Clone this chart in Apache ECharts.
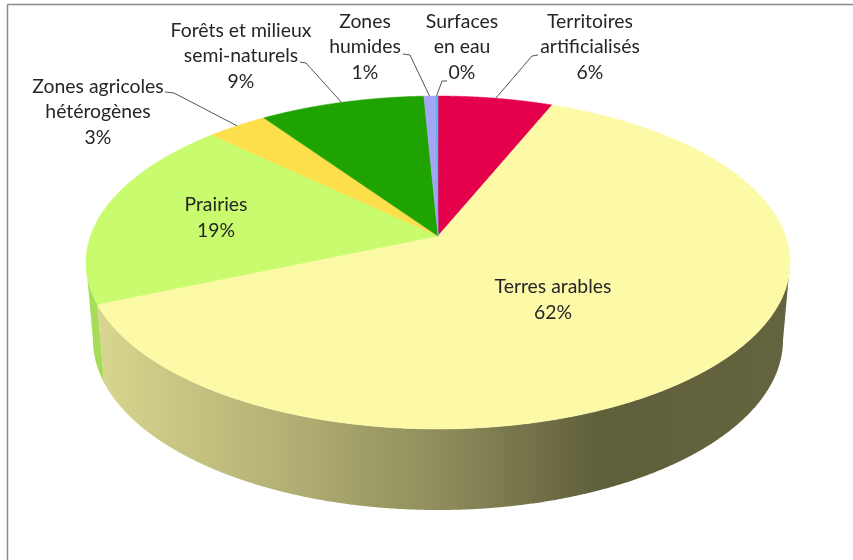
<!DOCTYPE html>
<html><head><meta charset="utf-8">
<style>html,body{margin:0;padding:0;background:#fff}#c{width:853px;height:560px}</style>
<script src="https://cdn.jsdelivr.net/npm/echarts@6/dist/echarts.min.js"></script>
</head><body><div id="c"></div>
<script>
// Data, clockwise from 12 o'clock
const categories = ['Territoires\nartificialisés','Terres arables','Prairies','Zones agricoles\nhétérogènes','Forêts et milieux\nsemi-naturels','Zones\nhumides','Surfaces\nen eau'];
const shares = [6.15, 62.4, 18.6, 3.25, 8.85, 0.6, 0.15];
const topColors = ['#E4004B','#FCFAA6','#C8FB6E','#FCDF4B','#1FA300','#A4A6F5','#5FB4F0'];

// Layout of the tilted pie
const cx = 438, apexY = 236, topY = 262.5, rx = 352, ry = 166.5;
const baseY = 340, baseRx = 345, baseRy = 170;
const persp = -0.1592, yGain = 124.7, xGain = 347.5;
// label centre and optional elbow leader
const labelLayout = [
  {x:590,y:47,leader:[[538,55],[532,56]]},
  {x:553,y:300},
  {x:216,y:218},
  {x:98,y:112,leader:[[165,92],[174,93]]},
  {x:241,y:56,leader:[[300,62],[306,63]]},
  {x:365,y:47,leader:[[403,54],[410,55]]},
  {x:462,y:47,leader:[[447,81],[442,81]]}
];

function project(frac){
  const t = frac*2*Math.PI, u = Math.sin(t), v = -Math.cos(t), w = 1+persp*v;
  return [cx+xGain*u/w, (yGain*v+apexY)/w];
}
const wallGradient = new echarts.graphic.LinearGradient(86,0,790,0,[
  {offset:0,color:'#DBD891'},{offset:0.3,color:'#B0AE72'},{offset:0.5,color:'#8F8D5C'},
  {offset:0.73,color:'#5F5F3B'},{offset:1,color:'#64643F'}],true);

const starts = [];
shares.reduce((s,v,i)=>{starts[i]=s;return s+v;},0);

function renderItem(params, api){
  const i = params.dataIndex, value = api.value(0);
  const a = starts[i]/100, b = (starts[i]+value)/100;
  const steps = Math.max(2, Math.ceil((b-a)*1440));
  const arc = [], upper = [], lower = [];
  for(let k=0;k<=steps;k++){
    const p = project(a+(b-a)*k/steps);
    arc.push(p);
    const ph = Math.atan2((p[1]-topY)/ry,(p[0]-cx)/rx);
    if(Math.sin(ph)>=0){
      upper.push(p);
      lower.push([cx+baseRx*Math.cos(ph), baseY+baseRy*Math.sin(ph)]);
    }
  }
  const kids = [];
  if(upper.length>1){
    kids.push({type:'polygon',shape:{points:upper.concat(lower.reverse())},
      style:{fill:i===1?wallGradient:'#A6DC58'}});
  }
  kids.push({type:'polygon',shape:{points:[[cx,apexY]].concat(arc)},
    style:{fill:topColors[i],stroke:topColors[i],lineWidth:0.5}});
  const L = labelLayout[i];
  const pct = Math.round(value)+'%';
  kids.push({type:'text',z2:10,style:{x:L.x,y:L.y,align:'center',verticalAlign:'middle',
    text:categories[i]+'\n'+pct,fill:'#262626',lineHeight:25.7,
    font:'19.4px Lato, "Open Sans", sans-serif'}});
  if(L.leader){
    const end = project((a+b)/2);
    kids.push({type:'polyline',z2:9,shape:{points:L.leader.concat([end])},
      style:{fill:'none',stroke:'#555',lineWidth:1}});
  }
  return {type:'group',children:kids};
}

const chart = echarts.init(document.getElementById('c'),null,{renderer:'canvas'});
chart.setOption({
  animation:false,
  backgroundColor:'#fff',
  graphic:[
    {type:'line',shape:{x1:7.5,y1:4.5,x2:853,y2:4.5},style:{stroke:'#8A8A8A',lineWidth:1.5}},
    {type:'line',shape:{x1:7.5,y1:4.5,x2:7.5,y2:560},style:{stroke:'#8A8A8A',lineWidth:1.5}}
  ],
  series:[{type:'custom',coordinateSystem:'none',renderItem,silent:true,clip:false,
    data:shares.map(v=>[v])}]
});
</script></body></html>
